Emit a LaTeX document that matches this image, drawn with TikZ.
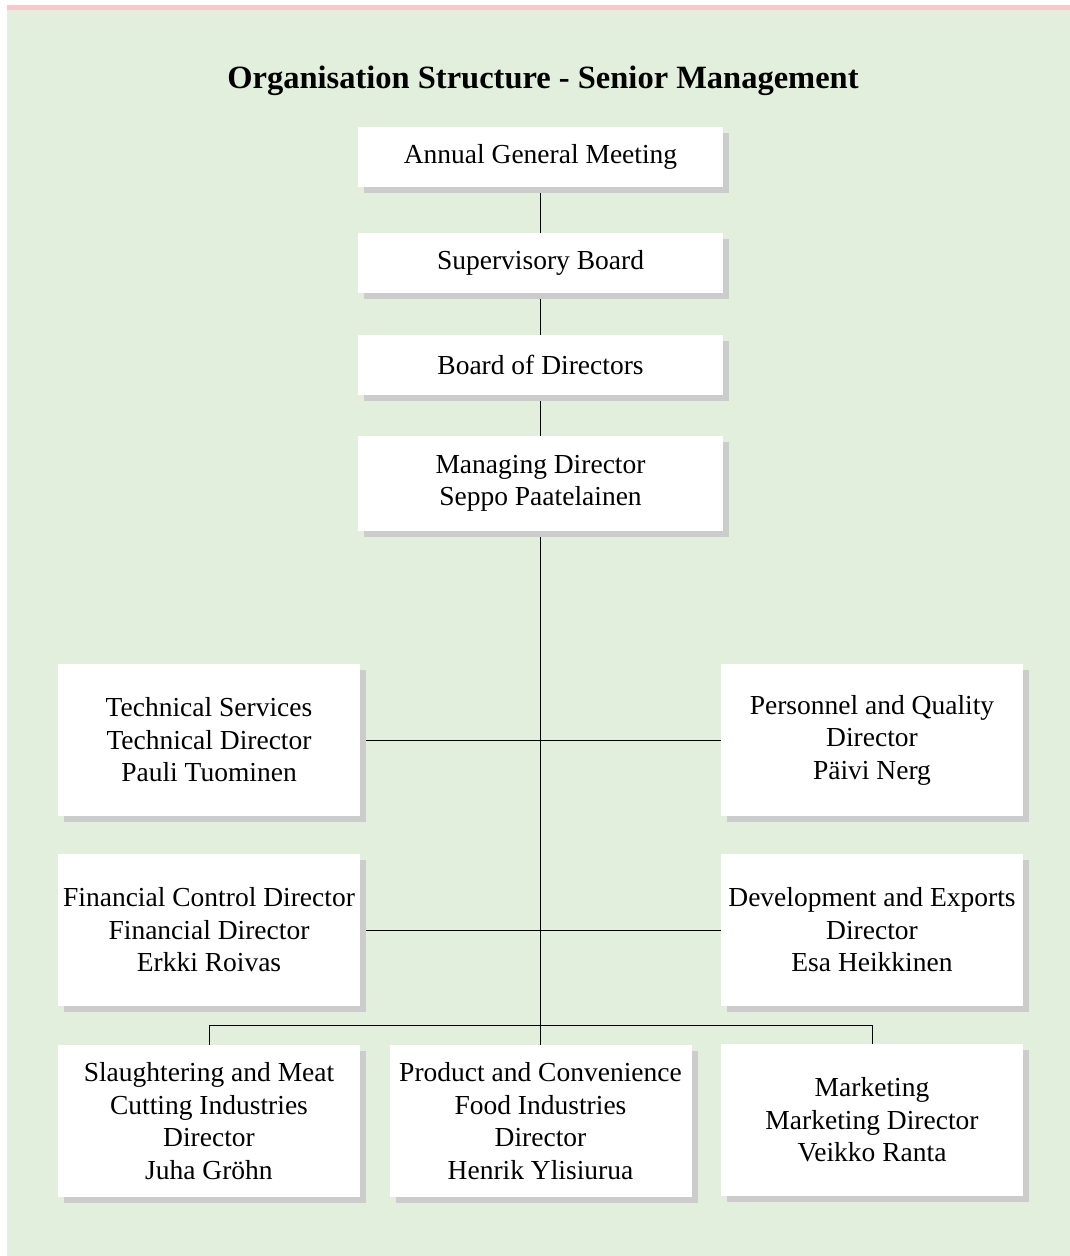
\documentclass[tikz,border=0pt]{standalone}
\usepackage{fontspec}
\setmainfont{Liberation Serif}
\usetikzlibrary{shadows,backgrounds}
\begin{document}
\begin{tikzpicture}[x=1pt,y=-1pt,
    orgbox/.style={fill=white,inner sep=0pt,align=center,
      minimum width=302pt,minimum height=152pt,
      font=\fontsize{27.5}{32.5}\selectfont,
      drop shadow={shadow xshift=6pt,shadow yshift=-6pt,fill=kShadow,opacity=1}},
    topbox/.style={orgbox,minimum width=365pt,minimum height=60pt},
    link/.style={draw,line width=1pt,color=black}]
  % colors
  \definecolor{kGreen}{HTML}{E2EFDC}
  \definecolor{kPink}{HTML}{F8C8CB}
  \definecolor{kShadow}{HTML}{CCCCCC}
  \useasboundingbox (0,0) rectangle (1070,1256);
  % title
  \node[anchor=base,font=\fontsize{32.5}{38}\selectfont\bfseries] (title) at (543,88)
    {Organisation Structure - Senior Management};
  % boxes
  \foreach \name/\y/\txt in {agm/157/Annual General Meeting, sb/263/Supervisory Board, bod/365/Board of Directors}
    \node[topbox] (\name) at (540.5,\y) {\txt};
  \node[topbox,minimum height=95pt] (md) at (540.5,483.5) {Managing Director\\Seppo Paatelainen};
  \node[orgbox] (tech) at (209,740) {Technical Services\\Technical Director\\Pauli Tuominen};
  \node[orgbox] (pers) at (872,740) {Personnel and Quality\\Director\\Päivi Nerg};
  \node[orgbox] (fin) at (209,930) {Financial Control Director\\Financial Director\\Erkki Roivas};
  \node[orgbox] (dev) at (872,930) {Development and Exports\\Director\\Esa Heikkinen};
  \node[orgbox] (slau) at (209,1121) {Slaughtering and Meat\\Cutting Industries\\Director\\Juha Gröhn};
  \node[orgbox] (prod) at (540.5,1121) {Product and Convenience\\Food Industries\\Director\\Henrik Ylisiurua};
  \node[orgbox] (mkt) at (872,1120) {Marketing\\Marketing Director\\Veikko Ranta};
  \coordinate (bus) at (540.5,1025);
  \begin{scope}[on background layer]
    % page
    \fill[kPink] (7,5) rectangle (1070,10);
    \fill[kGreen] (7,10) rectangle (1070,1256);
    % lines
    \draw[link] (agm) -- (sb);
    \draw[link] (sb) -- (bod);
    \draw[link] (bod) -- (md);
    \draw[link] (md) -- (prod);
    \draw[link] (tech) -- (pers);
    \draw[link] (fin) -- (dev);
    \draw[link] (slau.north) |- (bus) -| (mkt.north);
  \end{scope}
\end{tikzpicture}
\end{document}
